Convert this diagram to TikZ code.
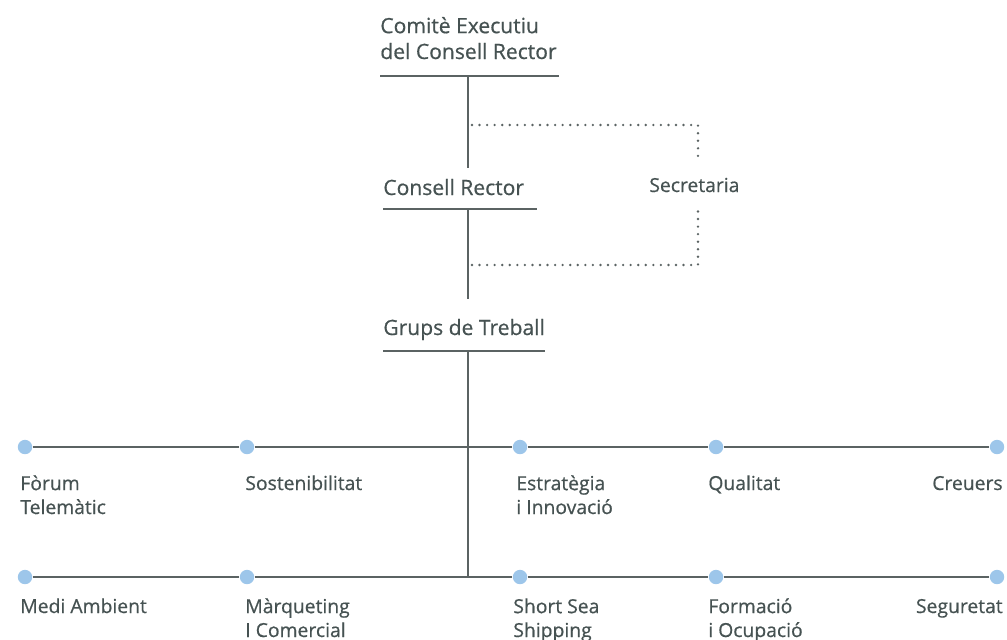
\documentclass[tikz,border=0pt]{standalone}
\usepackage{fontspec}
\setmainfont{Open Sans}[RawFeature={embolden=0.6}]
\usetikzlibrary{positioning}

\definecolor{txtgrey}{HTML}{465252}
\definecolor{linegrey}{HTML}{5B6363}
\definecolor{dotblue}{HTML}{9DC6EA}

\tikzset{
  lbl/.style={anchor=base west, inner sep=0pt, text=txtgrey, align=left,
    font=\fontsize{12}{13.6}\selectfont},
  grp/.style={lbl, font=\fontsize{11}{13.6}\selectfont},
  rgrp/.style={grp, anchor=base east, align=right},
  rule/.style={draw=linegrey, line width=0.6pt},
  dotline/.style={draw=linegrey, line width=1.5pt, line cap=round, dash pattern=on 0pt off 4.3pt},
  bullet/.style={circle, fill=dotblue, inner sep=0pt, minimum size=8.2pt}
}

\begin{document}
\begin{tikzpicture}[x=0.02cm,y=-0.02cm]
\useasboundingbox (0,0) rectangle (1007,639);

% Define coordinates
\coordinate (ceL) at (380,76);
\coordinate (ceR) at (559,76);
\coordinate (ceT) at (468,76);
\coordinate (crA) at (468,168);
\coordinate (crL) at (383,209);
\coordinate (crR) at (537,209);
\coordinate (crT) at (468,209);
\coordinate (gtA) at (468,299);
\coordinate (gtL) at (383,351);
\coordinate (gtR) at (545,351);
\coordinate (gtT) at (468,351);
\coordinate (gtB) at (468,577);
\coordinate (dt1) at (472,125);
\coordinate (dt2) at (698,161);
\coordinate (db1) at (472,265);
\coordinate (db2) at (698,208);

% Governing bodies (base = last line)
\node[lbl,font=\fontsize{12}{14.7}\selectfont] (ce) at (380,59) {Comitè Executiu\\del Consell Rector};
\node[lbl] (cr) at (383,195) {Consell Rector};
\node[grp] (sec) at (649,192) {Secretaria};
\node[lbl] (gt) at (383,335) {Grups de Treball};

\draw[rule] (ceL) -- (ceR);
\draw[rule] (crL) -- (crR);
\draw[rule] (gtL) -- (gtR);
\draw[rule] (ceT) -- (crA);
\draw[rule] (crT) -- (gtA);
\draw[rule] (gtT) -- (gtB);

% Dotted links to the secretary
\draw[dotline] (dt1) -| (dt2);
\draw[dotline] (db1) -| (db2);

% Working groups, two rows
\foreach \x [count=\i] in {25,247,520,716,997} {
  \node[bullet] (up\i) at (\x,447) {};
  \node[bullet] (lo\i) at (\x,577) {};
}
\draw[rule] (up1) -- (up2) -- (up3) -- (up4) -- (up5);
\draw[rule] (lo1) -- (lo2) -- (lo3) -- (lo4) -- (lo5);

\node[grp] (fo) at (20,514) {Fòrum\\Telemàtic};
\node[grp] (so) at (245,490) {Sostenibilitat};
\node[grp] (es) at (516,514) {Estratègia\\i Innovació};
\node[grp] (qu) at (708,490) {Qualitat};
\node[rgrp] (cu) at (1003,490) {Creuers};

\node[grp] (ma) at (20,613) {Medi Ambient};
\node[grp] (mc) at (245,637) {Màrqueting\\I Comercial};
\node[grp] (ss) at (513,637) {Short Sea\\Shipping};
\node[grp] (fm) at (708,637) {Formació\\i Ocupació};
\node[rgrp] (sg) at (1003,613) {Seguretat};

\end{tikzpicture}
\end{document}
